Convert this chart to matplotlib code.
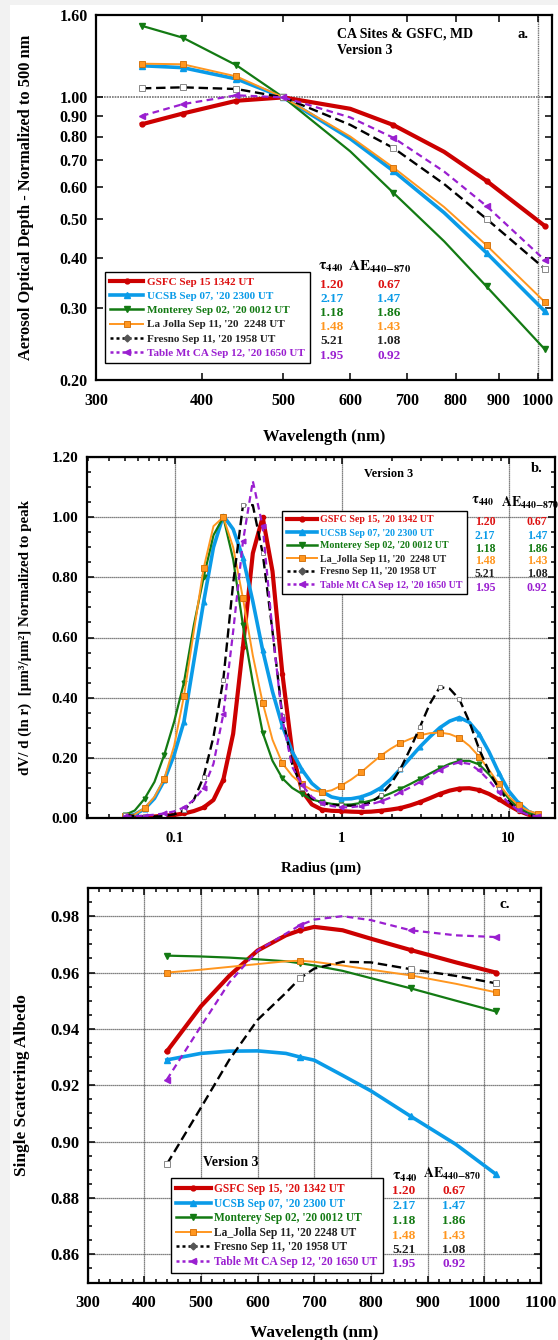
import matplotlib
matplotlib.use('Agg')
import matplotlib.pyplot as plt
from matplotlib.ticker import FixedLocator, FixedFormatter, MultipleLocator, LogLocator, NullFormatter, NullLocator
from matplotlib.patches import Rectangle

plt.rcParams['font.family'] = ['Liberation Serif', 'DejaVu Serif']
plt.rcParams['font.weight'] = 'bold'
plt.rcParams['mathtext.fontset'] = 'stix'

W, H = 558, 1340

# ---- site info ----
colors = ['#cc0000', '#0a9be8', '#137a13', '#ff961f', 'black', '#9a1fd0']
text_colors = ['#dd1111', '#0a9be8', '#137a13', '#222222', '#222222', '#9a1fd0']
tau_colors = ['#dd1111', '#0a9be8', '#137a13', '#ff961f', '#222222', '#9a1fd0']
tau440 = ['1.20', '2.17', '1.18', '1.48', '5.21', '1.95']
ae440_870 = ['0.67', '1.47', '1.86', '1.43', '1.08', '0.92']

labels_a = ["GSFC Sep 15 1342 UT", "UCSB Sep 07, '20 2300 UT", "Monterey Sep 02, '20 0012 UT",
            "La Jolla Sep 11, '20  2248 UT", "Fresno Sep 11, '20 1958 UT", "Table Mt CA Sep 12, '20 1650 UT"]
labels_b = ["GSFC Sep 15, '20 1342 UT", "UCSB Sep 07, '20 2300 UT", "Monterey Sep 02, '20 0012 UT",
            "La_Jolla Sep 11, '20  2248 UT", "Fresno Sep 11, '20 1958 UT", "Table Mt CA Sep 12, '20 1650 UT"]
labels_c = ["GSFC Sep 15, '20 1342 UT", "UCSB Sep 07, '20 2300 UT", "Monterey Sep 02, '20 0012 UT",
            "La_Jolla Sep 11, '20 2248 UT", "Fresno Sep 11, '20 1958 UT", "Table Mt CA Sep 12, '20 1650 UT"]

# ---- panel a: AOD normalized at 500 nm (600 and 775 nm) ----
aod_wl = [340, 380, 440, 500, 600, 675, 775, 870, 1020]
aod_marks = [0, 1, 2, 3, 5, 7, 8]
aod_gsfc = [0.858, 0.912, 0.981, 1.0, 0.937, 0.854, 0.733, 0.621, 0.480]
aod_ucsb = [1.198, 1.185, 1.111, 1.0, 0.790, 0.657, 0.518, 0.412, 0.295]
aod_monterey = [1.504, 1.406, 1.201, 1.0, 0.735, 0.580, 0.440, 0.340, 0.2375]
aod_lajolla = [1.212, 1.208, 1.127, 1.0, 0.800, 0.670, 0.535, 0.430, 0.311]
aod_fresno = [1.053, 1.059, 1.049, 1.0, 0.855, 0.749, 0.610, 0.500, 0.376]
aod_tablemt = [0.900, 0.962, 1.012, 1.0, 0.892, 0.794, 0.655, 0.538, 0.395]

# ---- panel b: size distributions normalized to peak ----
radius = [0.050, 0.0573, 0.0656, 0.0752, 0.0861, 0.0987, 0.113, 0.1295, 0.1483, 0.1699,
          0.1946, 0.2230, 0.2554, 0.2926, 0.3352, 0.3840, 0.4399, 0.5040, 0.5773, 0.6614,
          0.7576, 0.8680, 0.9942, 1.139, 1.305, 1.495, 1.712, 1.962, 2.247, 2.574,
          2.949, 3.378, 3.870, 4.434, 5.079, 5.819, 6.666, 7.636, 8.748, 10.02,
          11.48, 13.15, 15.0]
dv_gsfc = [0.002, 0.002, 0.003, 0.005, 0.008, 0.010, 0.015, 0.023, 0.035, 0.060,
           0.127, 0.280, 0.570, 0.880, 1.000, 0.820, 0.480, 0.220, 0.090, 0.045,
           0.028, 0.024, 0.023, 0.021, 0.020, 0.021, 0.024, 0.028, 0.033, 0.042,
           0.053, 0.066, 0.080, 0.091, 0.098, 0.099, 0.093, 0.080, 0.062, 0.042,
           0.024, 0.011, 0.005]
dv_ucsb = [0.005, 0.012, 0.030, 0.065, 0.125, 0.210, 0.320, 0.520, 0.718, 0.900,
           1.005, 0.960, 0.865, 0.720, 0.558, 0.420, 0.306, 0.220, 0.160, 0.115,
           0.088, 0.070, 0.063, 0.064, 0.070, 0.082, 0.100, 0.128, 0.163, 0.200,
           0.237, 0.270, 0.300, 0.322, 0.334, 0.318, 0.279, 0.220, 0.150, 0.090,
           0.050, 0.022, 0.010]
dv_monterey = [0.010, 0.025, 0.064, 0.120, 0.210, 0.320, 0.450, 0.640, 0.800, 0.940,
               1.000, 0.860, 0.640, 0.450, 0.284, 0.190, 0.132, 0.100, 0.080, 0.062,
               0.053, 0.047, 0.044, 0.045, 0.050, 0.058, 0.069, 0.082, 0.097, 0.113,
               0.130, 0.148, 0.165, 0.180, 0.190, 0.190, 0.178, 0.145, 0.105, 0.065,
               0.035, 0.016, 0.008]
dv_lajolla = [0.005, 0.012, 0.033, 0.070, 0.130, 0.240, 0.405, 0.620, 0.830, 0.970,
              1.000, 0.900, 0.730, 0.540, 0.383, 0.260, 0.182, 0.140, 0.112, 0.093,
              0.086, 0.092, 0.108, 0.128, 0.152, 0.180, 0.207, 0.230, 0.249, 0.263,
              0.275, 0.282, 0.284, 0.279, 0.266, 0.240, 0.204, 0.160, 0.113, 0.072,
              0.042, 0.024, 0.014]
dv_fresno = [0.010, 0.007, 0.005, 0.005, 0.007, 0.012, 0.025, 0.060, 0.137, 0.270,
             0.460, 0.780, 1.040, 1.040, 0.880, 0.620, 0.340, 0.180, 0.100, 0.065,
             0.050, 0.044, 0.042, 0.041, 0.042, 0.052, 0.075, 0.112, 0.163, 0.230,
             0.304, 0.380, 0.435, 0.430, 0.394, 0.320, 0.229, 0.155, 0.097, 0.055,
             0.025, 0.010, 0.005]
dv_tablemt = [0.005, 0.006, 0.008, 0.011, 0.015, 0.022, 0.035, 0.060, 0.100, 0.180,
              0.345, 0.620, 0.920, 1.120, 0.970, 0.620, 0.330, 0.170, 0.110, 0.070,
              0.050, 0.040, 0.035, 0.036, 0.040, 0.046, 0.055, 0.068, 0.085, 0.102,
              0.120, 0.140, 0.160, 0.176, 0.185, 0.180, 0.158, 0.125, 0.085, 0.050,
              0.025, 0.010, 0.005]

# ---- panel c: single scattering albedo ----
ssa_wl = [440, 500, 550, 600, 650, 675, 700, 750, 800, 870, 950, 1020]
ssa_marks = [0, 5, 9, 11]   # retrieval wavelengths 440, 675, 870, 1020
ssa_gsfc = [0.932, 0.948, 0.9588, 0.9678, 0.9732, 0.975, 0.9762, 0.975, 0.972, 0.968, 0.9636, 0.960]
ssa_ucsb = [0.929, 0.9313, 0.9321, 0.9322, 0.9313, 0.930, 0.9289, 0.9235, 0.918, 0.909, 0.899, 0.8885]
ssa_monterey = [0.966, 0.9657, 0.9653, 0.9647, 0.964, 0.9633, 0.9625, 0.9606, 0.958, 0.9544, 0.950, 0.9462]
ssa_lajolla = [0.960, 0.961, 0.962, 0.963, 0.964, 0.9642, 0.9638, 0.9625, 0.961, 0.959, 0.956, 0.953]
ssa_fresno = [0.892, 0.912, 0.929, 0.9432, 0.9528, 0.958, 0.9614, 0.9638, 0.9636, 0.9612, 0.9588, 0.9562]
ssa_tablemt = [0.922, 0.9409, 0.9564, 0.9678, 0.9738, 0.9768, 0.9788, 0.980, 0.9786, 0.975, 0.9732, 0.9726]

styles = [
    dict(color=colors[0], lw=3.0, ls='-', marker='o', ms=3.5, mfc=colors[0], mec=colors[0]),
    dict(color=colors[1], lw=2.6, ls='-', marker='^', ms=4, mfc=colors[1], mec=colors[1]),
    dict(color=colors[2], lw=1.6, ls='-', marker='v', ms=4, mfc=colors[2], mec=colors[2]),
    dict(color=colors[3], lw=1.4, ls='-', marker='s', ms=4.5, mfc=colors[3], mec='#d06a00', mew=0.6),
    dict(color=colors[4], lw=1.7, ls=(0, (4, 2)), marker='s', ms=4, mfc='white', mec='#888888', mew=0.7),
    dict(color=colors[5], lw=1.6, ls=(0, (3, 2)), marker='<', ms=4, mfc=colors[5], mec=colors[5]),
]
leg_styles = [
    dict(color=colors[0], lw=3.0, ls='-', marker='o', ms=3.5),
    dict(color=colors[1], lw=2.6, ls='-', marker='^', ms=4),
    dict(color=colors[2], lw=1.8, ls='-', marker='v', ms=4),
    dict(color=colors[3], lw=1.4, ls='-', marker='s', ms=4.5, mfc=colors[3], mec='#d06a00', mew=0.6),
    dict(color=colors[4], lw=1.8, ls=(0, (1.2, 1.2)), marker='D', ms=3.5, mfc='#555555', mec='#555555'),
    dict(color=colors[5], lw=1.8, ls=(0, (1.2, 1.2)), marker='<', ms=4),
]


def fx(x):
    return x / W


def fy(y):
    return 1 - y / H


def style_axes(ax, size):
    for s in ax.spines.values():
        s.set_linewidth(1.6)
    ax.tick_params(which='both', direction='in', top=True, right=True, width=1.1)
    ax.tick_params(which='major', length=5, labelsize=size, pad=6)
    ax.tick_params(which='minor', length=3)
    for lab in ax.get_xticklabels() + ax.get_yticklabels():
        lab.set_fontweight('bold')


def add_legend(ax, labels, x0, y0, size, spacing, hlen):
    handles = [plt.Line2D([], [], **s) for s in leg_styles]
    leg = ax.legend(handles, labels, loc='upper left', bbox_to_anchor=(fx(x0), fy(y0)),
                    bbox_transform=ax.figure.transFigure, fontsize=size, frameon=True,
                    fancybox=False, edgecolor='black', framealpha=1, numpoints=1,
                    handlelength=hlen, handletextpad=0.3, labelspacing=spacing,
                    borderpad=0.45, borderaxespad=0)
    leg.get_frame().set_linewidth(1.0)
    for t, c in zip(leg.get_texts(), text_colors):
        t.set_color(c)
        t.set_fontweight('bold')
    leg.set_zorder(5)
    return leg


def add_table(fig, xt, xa, rows, size):
    for y, t, a, c in zip(rows, tau440, ae440_870, tau_colors):
        fig.text(fx(xt), fy(y), t, color=c, ha='center', va='center', fontsize=size, fontweight='bold')
        fig.text(fx(xa), fy(y), a, color=c, ha='center', va='center', fontsize=size, fontweight='bold')


fig = plt.figure(figsize=(W / 100, H / 100), dpi=100, facecolor='#f2f2f2')
fig.patches.append(Rectangle((fx(10), 0), 1, fy(5), transform=fig.transFigure,
                             facecolor='white', edgecolor='none', zorder=-10))

# ================= panel a =================
ax1 = fig.add_axes([fx(96), fy(379.5), fx(552 - 96), (379.5 - 15) / H])
aod_series = [aod_gsfc, aod_ucsb, aod_monterey, aod_lajolla, aod_fresno, aod_tablemt]
for vals, st in zip(aod_series, styles):
    ax1.plot(aod_wl, vals, markevery=aod_marks, **st)
ax1.set_xscale('log')
ax1.set_yscale('log')
ax1.set_xlim(300, 1040)
ax1.set_ylim(0.2, 1.6)
xt = [300, 400, 500, 600, 700, 800, 900, 1000]
ax1.xaxis.set_major_locator(FixedLocator(xt))
ax1.xaxis.set_major_formatter(FixedFormatter([str(v) for v in xt]))
ax1.xaxis.set_minor_locator(NullLocator())
yt = [0.2, 0.3, 0.4, 0.5, 0.6, 0.7, 0.8, 0.9, 1.0, 1.6]
ax1.yaxis.set_major_locator(FixedLocator(yt))
ax1.yaxis.set_major_formatter(FixedFormatter(['%.2f' % v for v in yt]))
ax1.yaxis.set_minor_locator(NullLocator())
ax1.axhline(1.0, color='0.45', lw=1.2, ls=(0, (1, 0.6)), zorder=1)
ax1.axvline(1000, color='0.45', lw=1.0, ls=(0, (1, 0.6)), zorder=1)
style_axes(ax1, 11.5)
ax1.tick_params(axis='x', pad=10)
ax1.set_xlabel('Wavelength (nm)', fontsize=12, fontweight='bold', labelpad=14)
ax1.set_ylabel('Aerosol Optical Depth - Normalized to 500 nm', fontsize=11.8, fontweight='bold', labelpad=18)
fig.text(fx(337), fy(34), 'CA Sites & GSFC, MD', fontsize=10, fontweight='bold', va='center')
fig.text(fx(337), fy(51), 'Version 3', fontsize=10, fontweight='bold', va='center')
fig.text(fx(523), fy(34), 'a.', fontsize=10.5, fontweight='bold', ha='center', va='center')
add_legend(ax1, labels_a, 105, 272, 8, 0.4, 3.0)
fig.text(fx(331), fy(267), r'$\mathbf{\tau}_{\mathbf{440}}$', fontsize=11, ha='center', va='center')
fig.text(fx(380), fy(267), r'$\mathbf{AE}_{\mathbf{440{-}870}}$', fontsize=11, ha='center', va='center')
add_table(fig, 332, 389, [285, 299, 313, 327.5, 341.5, 356], 9.5)

# ================= panel b =================
ax2 = fig.add_axes([fx(86.7), fy(818), fx(555 - 86.7), (818 - 457) / H])
dv_series = [dv_gsfc, dv_ucsb, dv_monterey, dv_lajolla, dv_fresno, dv_tablemt]
for vals, st in zip(dv_series, styles):
    s = dict(st)
    s['ms'] = s['ms'] * 0.85
    ax2.plot(radius, vals, markevery=2, **s)
ax2.set_xscale('log')
ax2.set_xlim(0.0295, 19)
ax2.set_ylim(0, 1.2)
ax2.xaxis.set_major_locator(FixedLocator([0.1, 1, 10]))
ax2.xaxis.set_major_formatter(FixedFormatter(['0.1', '1', '10']))
ax2.xaxis.set_minor_locator(LogLocator(base=10, subs=range(2, 10)))
ax2.xaxis.set_minor_formatter(NullFormatter())
ax2.yaxis.set_major_locator(FixedLocator([0.2 * i for i in range(7)]))
ax2.yaxis.set_major_formatter(FixedFormatter(['%.2f' % (0.2 * i) for i in range(7)]))
ax2.yaxis.set_minor_locator(MultipleLocator(0.05))
ax2.grid(True, which='major', color='0.35', lw=0.9, ls=(0, (1, 0.6)))
ax2.set_axisbelow(True)
style_axes(ax2, 11)
ax2.tick_params(axis='x', labelsize=10.5, pad=10)
ax2.set_xlabel('Radius (\u00b5m)', fontsize=10.8, fontweight='bold', labelpad=12)
ax2.set_ylabel('dV/ d (ln r)  [\u00b5m\u00b3/\u00b5m\u00b2] Normalized to peak', fontsize=10.8,
               fontweight='bold', labelpad=14)
fig.text(fx(389), fy(474), 'Version 3', fontsize=8.8, fontweight='bold', ha='center', va='center')
fig.text(fx(537), fy(469), 'b.', fontsize=10.5, fontweight='bold', ha='center', va='center')
add_legend(ax2, labels_b, 282, 511, 7.2, 0.4, 3.0)
fig.text(fx(483), fy(501), r'$\mathbf{\tau}_{\mathbf{440}}$', fontsize=10, ha='center', va='center')
fig.text(fx(530), fy(503), r'$\mathbf{AE}_{\mathbf{440{-}870}}$', fontsize=10, ha='center', va='center')
add_table(fig, 485, 537, [522, 536, 549, 561.5, 574, 588], 8.5)

# ================= panel c =================
ax3 = fig.add_axes([fx(87.5), fy(1282.5), fx(541 - 87.5), (1282.5 - 888) / H])
ssa_series = [ssa_gsfc, ssa_ucsb, ssa_monterey, ssa_lajolla, ssa_fresno, ssa_tablemt]
for vals, st in zip(ssa_series, styles):
    ax3.plot(ssa_wl, vals, markevery=ssa_marks, **st)
ax3.set_xlim(300, 1100)
ax3.set_ylim(0.85, 0.99)
ax3.xaxis.set_major_locator(MultipleLocator(100))
ax3.xaxis.set_minor_locator(MultipleLocator(20))
ax3.yaxis.set_major_locator(FixedLocator([0.86, 0.88, 0.90, 0.92, 0.94, 0.96, 0.98]))
ax3.yaxis.set_major_formatter(FixedFormatter(['0.86', '0.88', '0.90', '0.92', '0.94', '0.96', '0.98']))
ax3.yaxis.set_minor_locator(MultipleLocator(0.005))
ax3.grid(True, which='major', color='0.35', lw=0.9, ls=(0, (1, 0.6)))
ax3.set_axisbelow(True)
style_axes(ax3, 12)
ax3.tick_params(axis='x', pad=9)
ax3.set_xlabel('Wavelength (nm)', fontsize=12.5, fontweight='bold', labelpad=10)
ax3.set_ylabel('Single Scattering Albedo', fontsize=12.4, fontweight='bold', labelpad=14)
fig.text(fx(231), fy(1162), 'Version 3', fontsize=10, fontweight='bold', ha='center', va='center')
fig.text(fx(505), fy(905), 'c.', fontsize=11, fontweight='bold', ha='center', va='center')
add_legend(ax3, labels_c, 171, 1178, 8.3, 0.22, 3.0)
fig.text(fx(405), fy(1177), r'$\mathbf{\tau_{440}}$', fontsize=11, ha='center', va='center')
fig.text(fx(452), fy(1174), r'$\mathbf{AE}_{\mathbf{440{-}870}}$', fontsize=10, ha='center', va='center')
add_table(fig, 404, 454, [1190.6, 1206, 1220.8, 1235.6, 1250, 1264.4], 9.5)

fig.savefig('out.png', dpi=100, facecolor=fig.get_facecolor())
